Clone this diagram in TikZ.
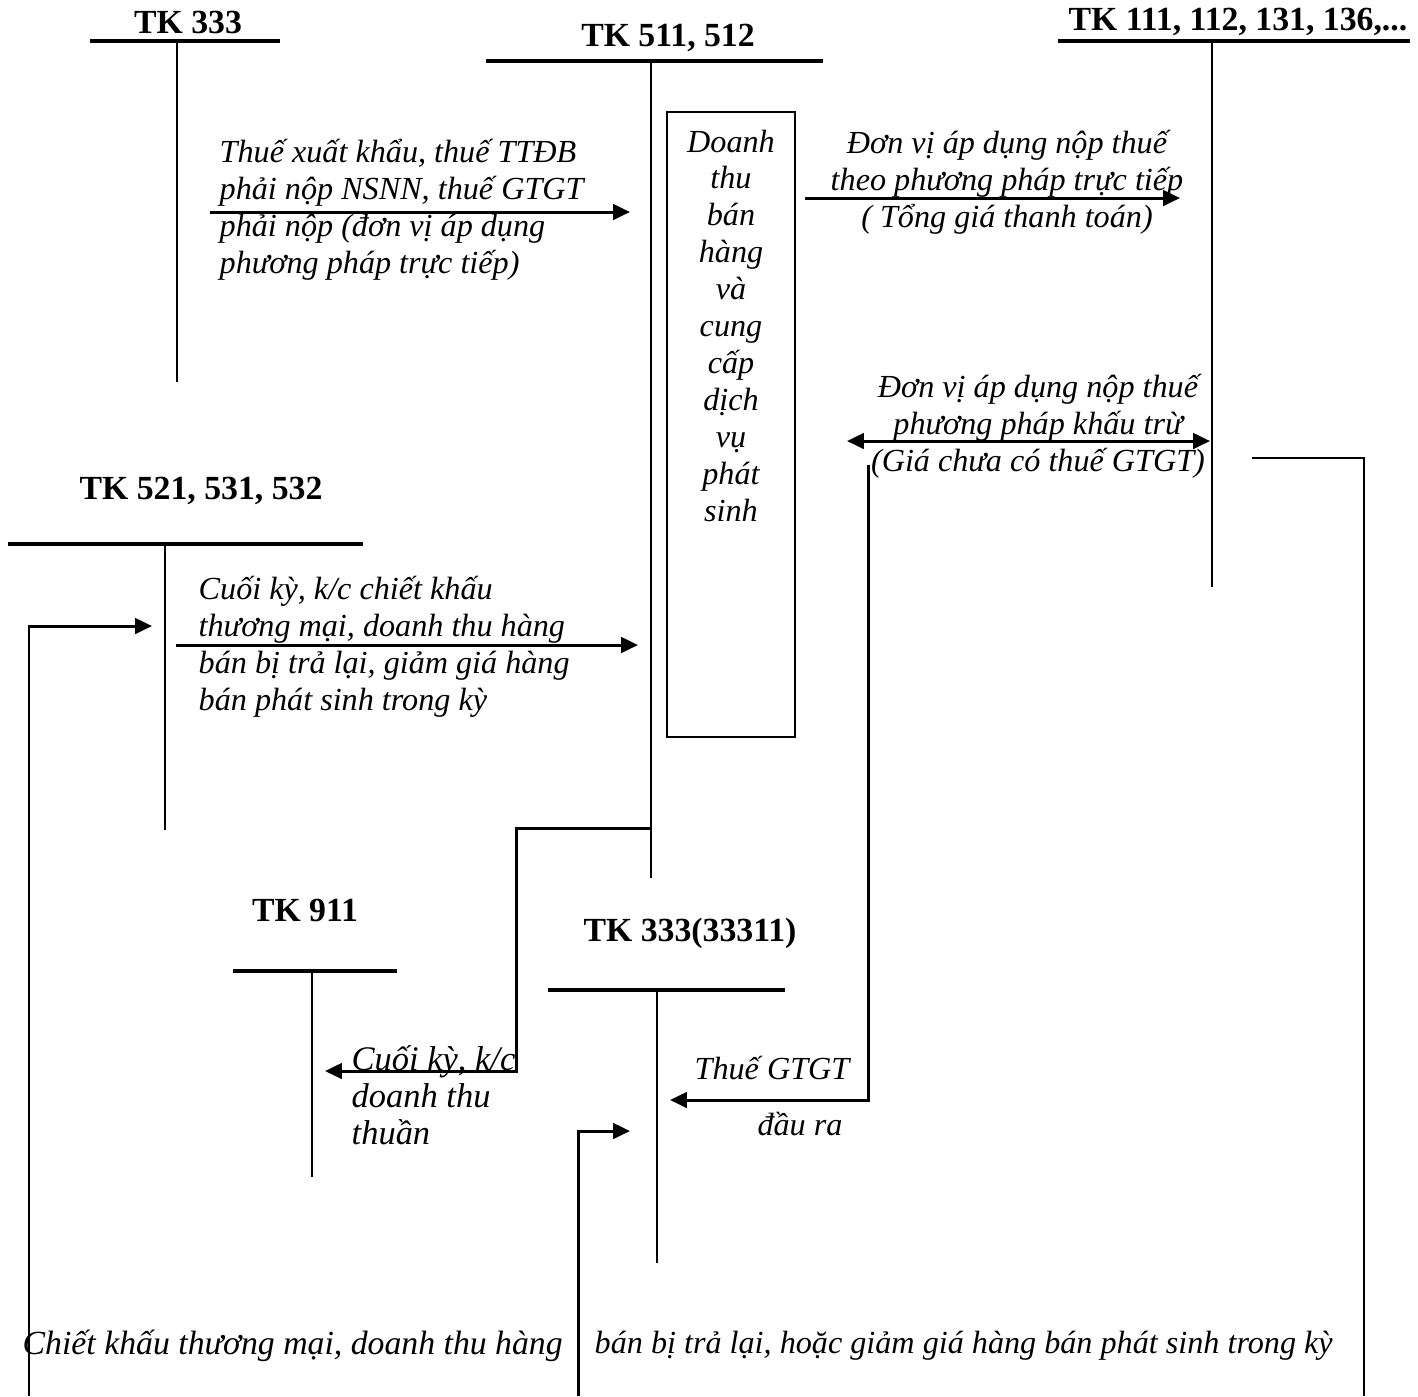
\documentclass[tikz,border=0pt]{standalone}
\usepackage{fontspec}
\setmainfont{Liberation Serif}
\usetikzlibrary{arrows.meta}

\begin{document}
\begin{tikzpicture}[x=0.01cm,y=-0.01cm,
   ahead/.tip={Triangle[length=4.8pt,width=4.4pt]},
   tline/.style={black,line width=1pt},
   vline/.style={black,line width=0.55pt},
   arr/.style={black,line width=0.85pt,-ahead},
   ttl/.style={font=\fontsize{9.6}{10.5}\selectfont\bfseries,inner sep=0pt},
   note/.style={font=\fontsize{9.15}{10.5}\selectfont\itshape,inner sep=0pt,align=left}]
\useasboundingbox (0,0) rectangle (1418,1396);
%% T accounts: name/left/right/stem/top/bottom
\foreach \nm/\xl/\xr/\xs/\yt/\yb in {t333/90/280/177/41/382, t511/486/823/651/61/878,
      t111/1058/1410/1212/41/587, t521/8/363/165/544/830,
      t911/233/397/312/971/1177, t3331/548/785/657/990/1263}
{
   \draw[tline] (\xl,\yt) -- (\xr,\yt);
   \draw[vline] (\xs,\yt) -- (\xs,\yb);
   \coordinate (\nm) at (\xs,\yb);
}
\node[ttl] (n333) at (188,22) {TK 333};
\node[ttl] (n511) at (668,38) {TK 511, 512};
\node[ttl] (n111) at (1238,22) {TK 111, 112, 131, 136,...};
\node[ttl] (n521) at (201,491) {TK 521, 531, 532};
\node[ttl] (n911) at (305,910) {TK 911};
\node[ttl] (n3331) at (690,933) {TK 333(33311)};
%% box
\draw[vline] (667,112) rectangle (795,737);
\node[note,align=center,anchor=north] (dt) at (731,129) {Doanh\\thu\\bán\\hàng\\và\\cung\\cấp\\dịch\\vụ\\phát\\sinh};
%% arrow ends
\coordinate (a1s) at (210,212); \coordinate (a1e) at (630,212);
\coordinate (a2s) at (805,198); \coordinate (a2e) at (1180,198);
\coordinate (a3s) at (847,441); \coordinate (a3e) at (1210,441);
\coordinate (a4s) at (176,645); \coordinate (a4e) at (638,645);
\coordinate (a5s) at (651,828); \coordinate (a5e) at (325,1071);
\coordinate (a6s) at (1252,458); \coordinate (a6e) at (1364,1396);
\coordinate (a7s) at (868,465); \coordinate (a7e) at (670,1100);
\coordinate (a8s) at (29,1396); \coordinate (a8e) at (152,626);
\coordinate (a9s) at (578,1396); \coordinate (a9e) at (630,1131);
\draw[arr] (a1s) -- (a1e);
\draw[arr] (a2s) -- (a2e);
\draw[arr,ahead-ahead] (a3s) -- (a3e);
\draw[arr] (a4s) -- (a4e);
\draw[arr] (a5s) -- (516,828) |- (a5e);
\draw[vline] (a6s) -| (a6e);
\draw[arr] (a7s) |- (a7e);
\draw[arr] (a8s) |- (a8e);
\draw[arr] (a9s) |- (a9e);
%% notes
\node[note,anchor=west] (m1) at (219,210) {Thuế xuất khẩu, thuế TTĐB\\phải nộp NSNN, thuế GTGT\\phải nộp (đơn vị áp dụng\\phương pháp trực tiếp)};
\node[note,align=center] (m2) at (1007,182) {Đơn vị áp dụng nộp thuế\\theo phương pháp trực tiếp\\( Tổng giá thanh toán)};
\node[note,align=center] (m3) at (1038,426) {Đơn vị áp dụng nộp thuế\\phương pháp khấu trừ\\(Giá chưa có thuế GTGT)};
\node[note,anchor=west] (m4) at (198,647) {Cuối kỳ, k/c chiết khấu\\thương mại, doanh thu hàng\\bán bị trả lại, giảm giá hàng\\bán phát sinh trong kỳ};
\node[note,anchor=west,font=\fontsize{9.8}{10.5}\selectfont\itshape] (m5) at (351,1095) {Cuối kỳ, k/c\\doanh thu\\thuần};
\node[note] (m6) at (772,1068) {Thuế GTGT};
\node[note] (m7) at (800,1124) {đầu ra};
\node[note,anchor=west,font=\fontsize{9.6}{10.5}\selectfont\itshape] (m8) at (22,1346) {Chiết khấu thương mại, doanh thu hàng};
\node[note,anchor=west] (m9) at (594,1346) {bán bị trả lại, hoặc giảm giá hàng bán phát sinh trong kỳ};
\end{tikzpicture}
\end{document}
